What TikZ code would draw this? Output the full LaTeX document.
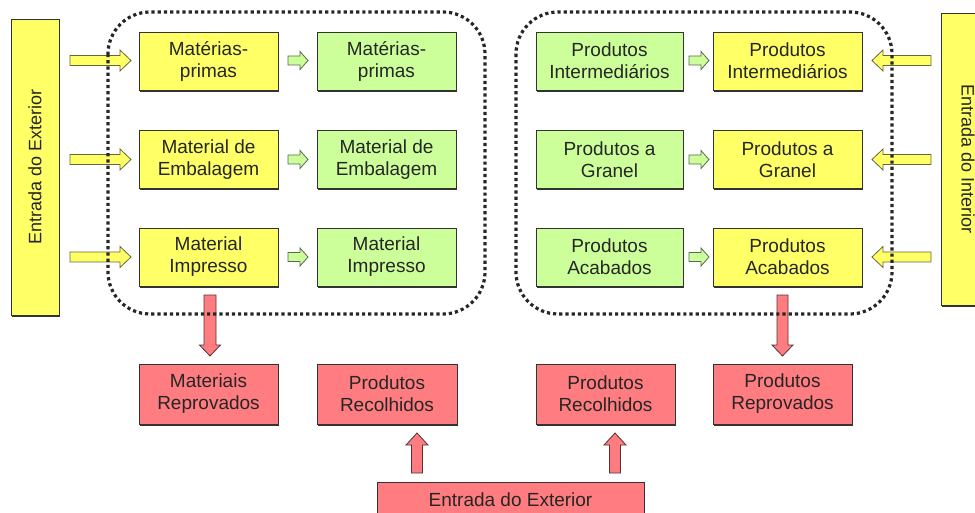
\documentclass[tikz,border=0pt]{standalone}
\usepackage{fontspec}
\setmainfont{Liberation Sans}
\definecolor{yel}{HTML}{FFFF66}
\definecolor{grn}{HTML}{CCFF99}
\definecolor{rosy}{HTML}{FF7C80}
\definecolor{edge}{HTML}{333333}
\definecolor{yedge}{HTML}{66663A}
\definecolor{gedge}{HTML}{5A6A50}
\definecolor{redge}{HTML}{553333}
% block arrow: style, centre, angle, length, head width, shaft width, head length
\newcommand\blkarrow[7]{%
  \draw[#1, shift={(#2)}, rotate=#3]
    (-#4/2,-#6/2) -- (#4/2-#7,-#6/2) -- (#4/2-#7,-#5/2) -- (#4/2,0)
    -- (#4/2-#7,#5/2) -- (#4/2-#7,#6/2) -- (-#4/2,#6/2) -- cycle;}
\begin{document}
\begin{tikzpicture}[x=1pt,y=-1pt,
  box/.style={draw=edge, line width=0.9pt, minimum height=58pt, inner sep=0pt,
    align=center, font=\fontsize{19}{22}\selectfont, text=black!85,
    preaction={fill=edge, transform canvas={shift={(1pt,-1.6pt)}}}},
  ybox/.style={box, fill=yel},
  gbox/.style={box, fill=grn},
  rbox/.style={box, fill=rosy},
  barbox/.style={ybox, font=\fontsize{18}{21}\selectfont},
  dotbox/.style={draw=black!85, line width=3.2pt, dash pattern=on 3.2pt off 3pt, rounded corners=42pt},
  yarr/.style={draw=yedge, fill=yel, line width=0.8pt, line join=miter},
  garr/.style={draw=gedge, fill=grn, line width=0.8pt},
  rarr/.style={draw=redge, fill=rosy, line width=0.8pt}
]
\path[use as bounding box, clip] (0,0) rectangle (975,513);

% side bars
\node[barbox, rotate=90, minimum width=296pt, minimum height=48pt] (lbar) at (35,167) {Entrada do Exterior};
\node[barbox, rotate=-90, minimum width=292pt, minimum height=54pt] (rbar) at (968,159) {Entrada do Interior};

% left group boxes
\node[ybox, minimum width=139pt] (a1) at (208.5,61) {Matérias-\\primas};
\node[ybox, minimum width=139pt] (a2) at (208.5,159.5) {Material de\\Embalagem};
\node[ybox, minimum width=139pt] (a3) at (208.5,257) {Material\\Impresso};
\node[gbox, minimum width=139pt] (b1) at (386.5,61) {Matérias-\\primas};
\node[gbox, minimum width=139pt] (b2) at (386.5,159.5) {Material de\\Embalagem};
\node[gbox, minimum width=139pt] (b3) at (386.5,257) {Material\\Impresso};

% right group boxes
\node[gbox, minimum width=147pt] (c1) at (609.5,61) {Produtos\\Intermediários};
\node[gbox, minimum width=147pt] (c2) at (609.5,159.5) {Produtos a\\Granel};
\node[gbox, minimum width=147pt] (c3) at (609.5,257) {Produtos\\Acabados};
\node[ybox, minimum width=149pt] (d1) at (787.5,61) {Produtos\\Intermediários};
\node[ybox, minimum width=149pt] (d2) at (787.5,159.5) {Produtos a\\Granel};
\node[ybox, minimum width=149pt] (d3) at (787.5,257) {Produtos\\Acabados};

% bottom boxes
\node[rbox, minimum width=139pt, minimum height=60pt] (r1) at (208.5,394) {Materiais\\Reprovados};
\node[rbox, minimum width=140pt, minimum height=60pt] (r2) at (387,394) {Produtos\\Recolhidos};
\node[rbox, minimum width=139pt, minimum height=60pt] (r3) at (605.5,394) {Produtos\\Recolhidos};
\node[rbox, minimum width=139pt, minimum height=60pt] (r4) at (782.5,394) {Produtos\\Reprovados};
\node[rbox, minimum width=267pt, minimum height=36pt] (ext) at (510.5,500) {Entrada do Exterior};

% block arrows
\foreach \y in {60.5,159.5,257}{
  \blkarrow{yarr}{100.5,\y}{0}{61}{21}{10}{11}
  \blkarrow{garr}{298,\y}{0}{20}{18}{9}{8}
  \blkarrow{garr}{699,\y}{0}{20}{18}{9}{8}
  \blkarrow{yarr}{901.5,\y}{180}{59}{21}{10}{11}
}

% red arrows
\blkarrow{rarr}{210,325.5}{-90}{61}{21}{12}{11}
\blkarrow{rarr}{782.5,325.5}{-90}{61}{21}{11}{11}
\blkarrow{rarr}{417,453}{90}{40}{22}{11}{12}
\blkarrow{rarr}{615,453}{90}{40}{22}{11}{12}

% dotted groups
\draw[dotbox] (108,12) rectangle (485,314);
\draw[dotbox] (516,12) rectangle (892,314);
\end{tikzpicture}
\end{document}
